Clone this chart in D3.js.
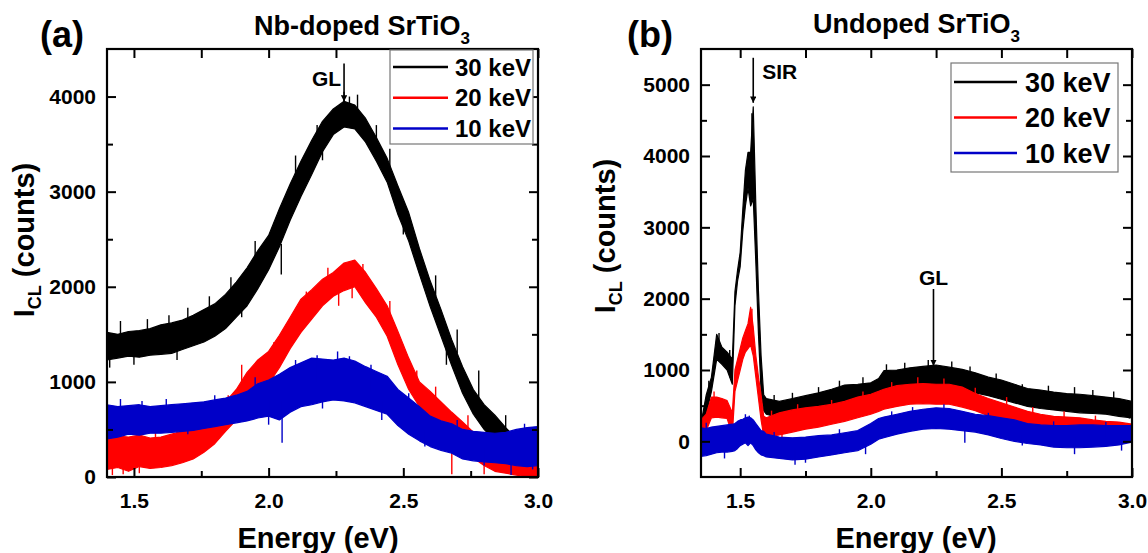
<!DOCTYPE html>
<html><head><meta charset="utf-8">
<script src="https://cdn.jsdelivr.net/npm/d3@7"></script>
<style>
html,body{margin:0;padding:0;background:#fff;}
svg{display:block;font-family:"Liberation Sans",Arial,sans-serif;font-weight:bold;}
</style></head><body>
<svg id="chart" width="1148" height="553"></svg>
<script>
// ---------- Panel (a): Nb-doped SrTiO3 ----------
const energyA = [1.40,1.44,1.48,1.52,1.56,1.60,1.64,1.68,1.72,1.76,1.80,1.84,1.88,1.92,1.96,2.00,2.04,2.08,2.12,2.16,2.20,2.24,2.28,2.32,2.36,2.40,2.44,2.48,2.52,2.56,2.60,2.64,2.68,2.72,2.76,2.80,2.84,2.88,2.92,2.96,3.00];
const a30Lo = [1230,1250,1270,1260,1280,1290,1300,1340,1380,1420,1480,1560,1680,1800,1980,2180,2420,2700,2950,3180,3420,3600,3680,3660,3520,3320,3100,2760,2480,2130,1790,1480,1170,880,660,500,380,250,100,40,100];
const a30Hi = [1520,1500,1530,1540,1560,1600,1620,1650,1700,1760,1820,1920,2050,2200,2380,2540,2820,3080,3320,3540,3740,3870,3950,3910,3770,3570,3350,3060,2780,2400,2060,1760,1440,1160,920,760,650,520,400,420,450];
const a20Lo = [80,100,60,110,90,100,120,150,190,260,350,480,600,780,880,980,1150,1350,1520,1660,1800,1900,1960,2000,1830,1680,1480,1180,920,740,620,500,370,270,200,120,60,40,20,0,0];
const a20Hi = [460,430,420,440,410,420,450,480,520,580,660,790,920,1100,1230,1320,1490,1680,1870,1970,2080,2150,2250,2280,2150,1980,1800,1530,1250,1000,900,790,680,580,470,380,300,260,240,220,200];
const a10Lo = [400,420,450,440,460,460,470,480,490,510,530,550,570,590,620,640,600,680,740,760,790,810,800,780,740,700,660,540,450,380,320,280,250,190,170,160,150,140,120,110,120];
const a10Hi = [760,740,750,760,740,750,760,770,780,790,810,830,860,900,980,1020,1080,1150,1200,1250,1240,1230,1250,1220,1160,1110,1060,920,830,740,640,590,560,500,480,470,460,470,500,520,530];
// isolated noise spikes: [energy, from, to]
const a30Spikes = [[2.047,2450,2130],[2.28,3900,4050],[2.30,3880,4000],[1.41,1400,1150],[1.45,1450,1640],[1.55,1450,1660],[1.63,1500,1700],[1.70,1550,1780],[1.78,1600,1900],[1.86,1800,2100],[1.95,2200,2480],[2.10,3000,3380],[2.18,3400,3700],[2.33,3800,4020],[2.40,3500,3700],[2.45,3200,3450],[2.62,1900,2120],[2.70,1300,1550],[2.78,800,1120],[2.88,400,650],[1.50,1350,1180],[1.66,1400,1230],[1.90,1900,1680],[2.20,3550,3330],[2.50,2700,2550],[2.66,1400,1180],[2.93,250,50]];
const a20Spikes = [[2.31,2100,1880],[1.46,200,30],[2.68,400,30],[1.43,300,520],[1.42,250,20],[1.52,250,40],[1.58,250,520],[1.66,300,560],[1.75,400,650],[1.85,650,860],[1.90,850,1180],[2.02,1100,1420],[2.14,1700,1950],[2.22,2000,2200],[2.26,2100,1800],[2.35,2000,2240],[2.45,1600,1850],[2.55,900,1120],[2.62,700,950],[2.74,350,650],[2.80,250,30],[2.95,100,290],[2.99,100,0]];
const a10Spikes = [[1.40,600,900],[2.05,800,360],[2.256,1100,1320],[2.9,300,20],[1.45,600,820],[1.53,600,800],[1.62,600,820],[1.70,600,450],[1.80,650,860],[1.95,800,1050],[2.00,800,550],[2.10,900,1230],[2.18,1000,1280],[2.20,1000,720],[2.30,1000,1270],[2.38,900,1180],[2.42,800,600],[2.52,600,880],[2.58,500,320],[2.70,350,600],[2.80,300,120],[2.95,300,560],[2.98,300,80]];
const xMajorA = [1.5,2.0,2.5,3.0];
const xMinorA = [1.75,2.25,2.75];
const yMajorA = [0,1000,2000,3000,4000];
const yMinorA = [500,1500,2500,3500];
const annotA = [{label:"GL", e:2.28, v:3947}];

// ---------- Panel (b): Undoped SrTiO3 ----------
const energyB = [1.35,1.37,1.39,1.41,1.43,1.45,1.47,1.48,1.49,1.50,1.51,1.52,1.53,1.54,1.55,1.56,1.57,1.58,1.59,1.60,1.65,1.70,1.75,1.80,1.85,1.90,1.95,2.00,2.03,2.05,2.10,2.15,2.20,2.25,2.30,2.35,2.40,2.45,2.50,2.55,2.60,2.65,2.70,2.75,2.80,2.85,2.90,2.95,3.00];
const b30Lo = [30,380,700,1150,1080,1000,800,1900,2250,2450,2950,3300,3550,3300,3400,2500,1500,700,430,380,330,350,380,400,450,500,540,560,600,700,720,750,780,790,770,720,680,640,590,540,490,460,440,420,400,390,380,350,330];
const b30Hi = [250,650,900,1500,1320,1250,1150,2100,2400,2650,3250,3800,4050,4050,4690,3300,2100,1200,650,600,560,600,640,680,730,790,800,820,880,990,1000,1030,1050,1070,1040,1010,960,900,860,800,740,720,690,670,660,640,620,600,560];
const b20Lo = [50,150,330,340,330,320,100,700,850,1000,1150,1250,1300,1350,1200,900,600,300,80,60,90,130,170,200,240,280,330,380,420,450,490,520,530,520,520,480,430,360,280,230,180,150,120,100,90,60,40,40,80];
const b20Hi = [300,380,620,620,600,570,400,1000,1150,1300,1450,1550,1650,1880,1600,1200,900,650,350,330,400,440,470,490,520,560,620,660,700,730,780,800,810,800,800,760,670,600,540,480,420,380,350,340,330,300,280,270,240];
const b10Lo = [-210,-200,-180,-160,-150,-150,-140,-130,-100,-60,-40,-20,-60,-20,-60,-120,-160,-190,-200,-220,-240,-260,-250,-220,-190,-160,-130,-40,30,50,100,140,170,180,170,150,130,90,40,0,-30,-50,-80,-90,-90,-80,-70,-50,-10];
const b10Hi = [190,180,200,210,220,230,240,250,280,300,310,330,340,330,300,250,200,150,140,100,60,50,60,80,90,120,150,250,320,340,380,420,450,470,460,420,380,360,330,300,250,230,220,220,230,230,220,220,220];
const b30Spikes = [[1.419,1300,1520],[1.545,3700,4600],[1.38,600,850],[1.46,900,1280],[1.63,450,650],[1.70,450,680],[1.80,550,760],[1.88,600,850],[1.97,650,900],[2.06,800,1080],[2.13,900,1100],[2.22,900,1140],[2.31,900,1120],[2.38,850,1050],[2.48,750,950],[2.58,600,800],[2.68,550,780],[2.78,500,760],[2.85,500,720],[2.93,450,700],[2.99,450,320]];
const b20Spikes = [[1.545,1500,1860],[1.40,450,700],[1.62,200,430],[1.72,300,520],[1.85,350,580],[1.97,450,700],[2.08,600,830],[2.18,650,900],[2.28,650,880],[2.40,550,750],[2.52,400,620],[2.62,300,480],[2.74,200,420],[2.86,200,360],[2.97,150,40],[1.66,250,40],[2.45,400,250]];
const b10Spikes = [[1.71,-100,-330],[1.535,100,360],[1.37,0,260],[1.44,0,-240],[1.52,150,380],[1.63,-100,130],[1.75,-100,-300],[1.88,0,170],[1.98,0,-180],[2.08,200,420],[2.16,300,480],[2.28,300,520],[2.36,250,-20],[2.45,200,400],[2.58,100,-60],[2.70,50,280],[2.78,50,-180],[2.90,50,270],[2.96,50,-130]];
const xMajorB = [1.5,2.0,2.5,3.0];
const xMinorB = [1.75,2.25,2.75];
const yMajorB = [0,1000,2000,3000,4000,5000];
const yMinorB = [500,1500,2500,3500,4500];
const annotB = [{label:"SIR", e:1.55, v:4746, side:"right", len:45}, {label:"GL", e:2.24, v:1056, side:"top", len:77}];

const legendLabels = ["30 keV","20 keV","10 keV"];
const colors = ["#000000","#ff0000","#0000c8"];

const svg = d3.select("#chart");
const defs = svg.append("defs");
defs.append("marker").attr("id","arrow").attr("viewBox","0 0 10 10").attr("refX",10).attr("refY",5)
  .attr("markerWidth",4).attr("markerHeight",4).attr("orient","auto")
  .append("path").attr("d","M0,0 L10,5 L0,10 Z").attr("fill","#000");

function drawPanel(cfg){
  const g = svg.append("g");
  const x = d3.scaleLinear().domain(cfg.xDomain).range([cfg.left, cfg.right]);
  const y = d3.scaleLinear().domain(cfg.yDomain).range([cfg.bottom, cfg.top]);
  const clipId = "clip" + cfg.id;
  defs.append("clipPath").attr("id", clipId).append("rect")
    .attr("x", cfg.left).attr("y", cfg.top).attr("width", cfg.right-cfg.left).attr("height", cfg.bottom-cfg.top);
  const plot = g.append("g").attr("clip-path", `url(#${clipId})`);
  cfg.series.forEach((s,k)=>{
    const data = cfg.energy.map((e,i)=>({e, lo:s.lo[i], hi:s.hi[i]}));
    plot.append("path").datum(data)
      .attr("d", d3.area().x(d=>x(d.e)).y0(d=>y(d.lo)).y1(d=>y(d.hi)))
      .attr("fill", colors[k]).attr("stroke", colors[k]).attr("stroke-width", 1.2).attr("stroke-linejoin","round");
    plot.selectAll(null).data(s.spikes).enter().append("line")
      .attr("x1", d=>x(d[0])).attr("x2", d=>x(d[0])).attr("y1", d=>y(d[1])).attr("y2", d=>y(d[2]))
      .attr("stroke", colors[k]).attr("stroke-width", 1.4);
  });
  // axes (ticks inward on all four sides)
  const styleAxis = a => { a.select(".domain").remove(); a.selectAll("line").attr("stroke","#000").attr("stroke-width",2);
    a.selectAll("text").attr("fill","#000").style("font-family",'"Liberation Sans",Arial,sans-serif').style("font-weight","bold").style("font-size","21px"); };
  const fmtX = d3.format(".1f");
  g.append("g").attr("transform",`translate(0,${cfg.bottom})`).call(d3.axisBottom(x).tickValues(cfg.xMajor).tickSize(-9).tickPadding(16).tickFormat(fmtX)).call(styleAxis);
  g.append("g").attr("transform",`translate(0,${cfg.bottom})`).call(d3.axisBottom(x).tickValues(cfg.xMinor).tickSize(-6).tickFormat("")).call(styleAxis);
  g.append("g").attr("transform",`translate(0,${cfg.top})`).call(d3.axisTop(x).tickValues(cfg.xMajor.concat(cfg.xMinor)).tickSize(-9).tickFormat("")).call(styleAxis);
  g.append("g").attr("transform",`translate(${cfg.left},0)`).call(d3.axisLeft(y).tickValues(cfg.yMajor).tickSize(-9).tickPadding(11).tickFormat(d3.format("d"))).call(styleAxis);
  g.append("g").attr("transform",`translate(${cfg.left},0)`).call(d3.axisLeft(y).tickValues(cfg.yMinor).tickSize(-6).tickFormat("")).call(styleAxis);
  g.append("g").attr("transform",`translate(${cfg.right},0)`).call(d3.axisRight(y).tickValues(cfg.yMajor).tickSize(-9).tickFormat("")).call(styleAxis);
  g.append("g").attr("transform",`translate(${cfg.right},0)`).call(d3.axisRight(y).tickValues(cfg.yMinor).tickSize(-6).tickFormat("")).call(styleAxis);
  g.append("rect").attr("x",cfg.left).attr("y",cfg.top).attr("width",cfg.right-cfg.left).attr("height",cfg.bottom-cfg.top)
    .attr("fill","none").attr("stroke","#000").attr("stroke-width",2.2);

  // legend
  const L = cfg.legend;
  const lg = g.append("g");
  lg.append("rect").attr("x",L.x).attr("y",L.y).attr("width",L.w).attr("height",L.h).attr("fill","#fff").attr("stroke","#777").attr("stroke-width",1.2);
  legendLabels.forEach((lab,i)=>{
    const yy = L.row0 + i*L.dy;
    lg.append("line").attr("x1",L.x1).attr("x2",L.x2).attr("y1",yy).attr("y2",yy).attr("stroke",colors[i]).attr("stroke-width",2.5);
    lg.append("text").attr("x",L.tx).attr("y",yy).attr("dy","0.36em").style("font-size",L.fs+"px").text(lab);
  });

  // annotations
  cfg.annot.forEach(a=>{
    const ax = x(a.e), ay = y(a.v);
    g.append("line").attr("x1",ax).attr("x2",ax).attr("y1",ay-a.len).attr("y2",ay).attr("stroke","#000").attr("stroke-width",1.6).attr("marker-end","url(#arrow)");
    const t = g.append("text").style("font-size",a.fs+"px").text(a.label);
    if(a.side==="left") t.attr("x",ax-3).attr("y",ay-a.len+22).attr("text-anchor","end");
    else if(a.side==="right") t.attr("x",ax+9).attr("y",ay-a.len+21).attr("text-anchor","start");
    else t.attr("x",ax).attr("y",ay-a.len-4).attr("text-anchor","middle");
  });

  // panel letter, title, axis labels
  g.append("text").attr("x",cfg.letterX).attr("y",47).style("font-size","36px").text(cfg.letter);
  const tt = g.append("text").attr("x",cfg.titleX).attr("y",cfg.titleY).style("font-size","27px");
  tt.append("tspan").text(cfg.title);
  tt.append("tspan").attr("dy",9).style("font-size","17px").text("3");
  g.append("text").attr("x",cfg.xLabelX).attr("y",548).attr("text-anchor","middle").style("font-size","29px").text("Energy (eV)");
  const yl = g.append("text").attr("transform",`translate(${cfg.yLabelX},${cfg.yLabelY}) rotate(-90)`).attr("text-anchor","middle").style("font-size","29px");
  yl.append("tspan").text("I");
  yl.append("tspan").attr("dy",7).style("font-size","18px").text("CL");
  yl.append("tspan").attr("dy",-7).text(" (counts)");
}

drawPanel({
  id:"a", left:107, right:538, top:49, bottom:477, xDomain:[1.4,3.0], yDomain:[0,4500],
  energy:energyA,
  series:[{lo:a30Lo,hi:a30Hi,spikes:a30Spikes},{lo:a20Lo,hi:a20Hi,spikes:a20Spikes},{lo:a10Lo,hi:a10Hi,spikes:a10Spikes}],
  xMajor:xMajorA, xMinor:xMinorA, yMajor:yMajorA, yMinor:yMinorA,
  legend:{x:390,y:50,w:143,h:94,x1:393,x2:448,tx:455,row0:67,dy:30.8,fs:24},
  annot:annotA.map(a=>Object.assign({side:"left",len:38,fs:21},a)),
  letter:"(a)", letterX:40, title:"Nb-doped SrTiO", titleX:254, titleY:35,
  xLabelX:318, yLabelX:34, yLabelY:240
});
drawPanel({
  id:"b", left:701, right:1132, top:49, bottom:477, xDomain:[1.35,3.0], yDomain:[-500,5500],
  energy:energyB,
  series:[{lo:b30Lo,hi:b30Hi,spikes:b30Spikes},{lo:b20Lo,hi:b20Hi,spikes:b20Spikes},{lo:b10Lo,hi:b10Hi,spikes:b10Spikes}],
  xMajor:xMajorB, xMinor:xMinorB, yMajor:yMajorB, yMinor:yMinorB,
  legend:{x:951,y:63,w:167,h:109,x1:954,x2:1017,tx:1025,row0:82,dy:35.5,fs:27},
  annot:annotB.map(a=>Object.assign({fs:21},a)),
  letter:"(b)", letterX:627, title:"Undoped SrTiO", titleX:813, titleY:33,
  xLabelX:916, yLabelX:615, yLabelY:236
});
</script>
</body></html>
